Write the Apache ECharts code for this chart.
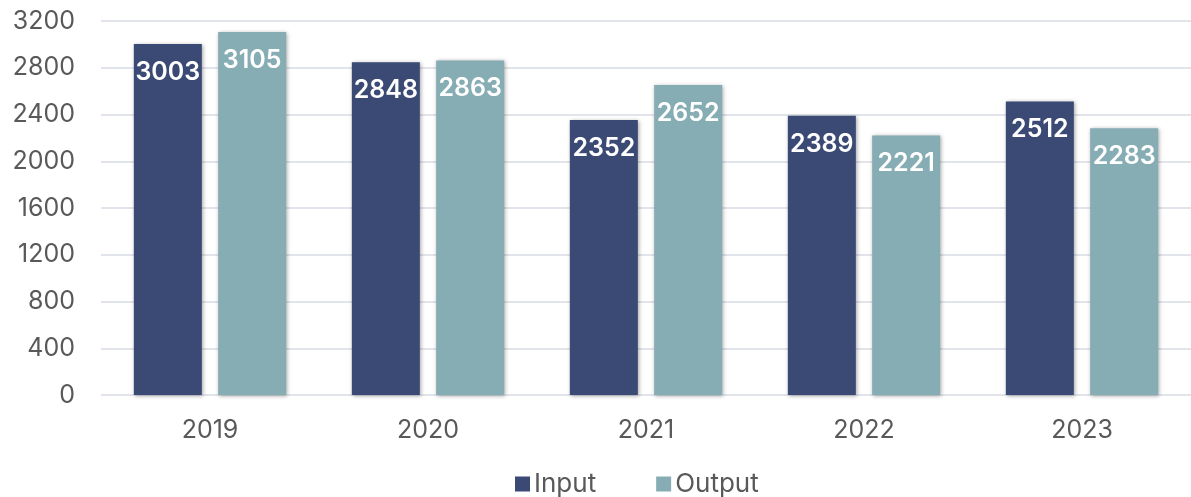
<!DOCTYPE html>
<html>
<head>
<meta charset="utf-8">
<script src="https://cdn.jsdelivr.net/npm/echarts@6/dist/echarts.min.js"></script>
<style>
  html, body { margin: 0; padding: 0; background: #ffffff; }
  #chart { width: 1191px; height: 497px; }
</style>
</head>
<body>
<div id="chart"></div>
<script>
// Yearly totals for the two series
const years = ['2019', '2020', '2021', '2022', '2023'];
const inputValues = [3003, 2848, 2352, 2389, 2512];
const outputValues = [3105, 2863, 2652, 2221, 2283];
const seriesNames = ['Input', 'Output'];

const FONT = 'Inter, "Noto Sans", sans-serif';

const barShadow = {
  shadowBlur: 4,
  shadowColor: 'rgba(0,0,0,0.35)',
  shadowOffsetX: 1,
  shadowOffsetY: 1
};

const valueLabel = {
  show: true,
  position: 'insideTop',
  distance: 16,
  color: '#ffffff',
  fontFamily: FONT,
  fontSize: 25,
  fontWeight: 600
};

const chart = echarts.init(document.getElementById('chart'), null, { renderer: 'canvas' });

chart.setOption({
  animation: false,
  backgroundColor: '#ffffff',
  grid: { left: 101, width: 1098, top: 21, bottom: 102, containLabel: false },
  legend: {
    bottom: -5,
    left: 510,
    itemWidth: 15,
    itemHeight: 15,
    itemGap: 60,
    icon: 'rect',
    textStyle: { fontFamily: FONT, fontSize: 26, color: '#595959', padding: [0, 0, 0, -1] },
    data: seriesNames
  },
  xAxis: {
    type: 'category',
    data: years,
    axisLine: { show: false },
    axisTick: { show: false },
    axisLabel: { fontFamily: FONT, fontSize: 25, color: '#595959', margin: 23 }
  },
  yAxis: {
    type: 'value',
    min: 0,
    max: 3200,
    interval: 400,
    axisLine: { show: false },
    axisTick: { show: false },
    axisLabel: {
      fontFamily: FONT,
      fontSize: 25,
      color: '#595959',
      margin: 26,
      formatter: (v) => String(v)
    },
    splitLine: { lineStyle: { color: '#e1e5eb', width: 2 } }
  },
  series: [
    {
      name: seriesNames[0],
      type: 'bar',
      data: inputValues,
      barWidth: 68,
      barGap: '24%',
      itemStyle: Object.assign({ color: '#3b4a74' }, barShadow),
      label: valueLabel
    },
    {
      name: seriesNames[1],
      type: 'bar',
      data: outputValues,
      barWidth: 68,
      itemStyle: Object.assign({ color: '#86adb4' }, barShadow),
      label: valueLabel
    }
  ]
});
</script>
</body>
</html>
